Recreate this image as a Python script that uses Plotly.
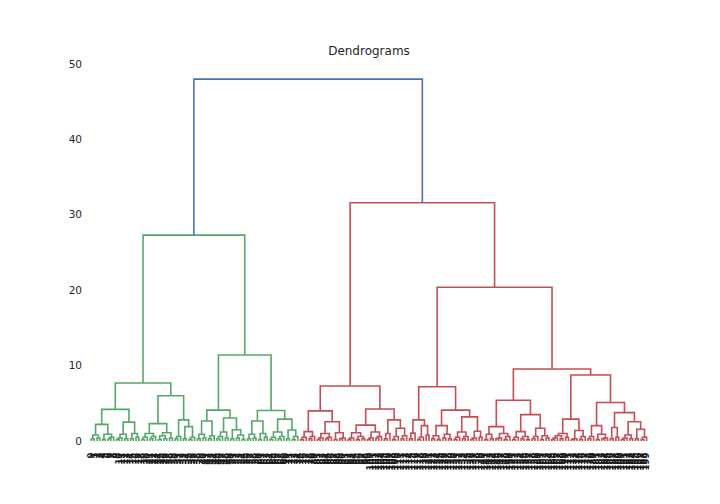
import plotly.graph_objects as go

# ---- Data: dendrogram structure (merge heights) ----
# Newick-like notation: (left,right)height ; 'x' is a leaf
GROUPS = {
    "G1aL": "(((x,x)0.3,(x,x)0.4)0.8,((x,x)0.2,((x,x)0.3,x)0.5)0.9)2.2",
    "G1aR": "((((x,x)0.2,x)0.4,(x,x)0.3)0.9,((x,x)0.3,(x,x)0.5)1.0)2.5",
    "G1bL": "((((x,x)0.2,x)0.5,((x,x)0.3,x)0.6)1.0,(((x,x)0.2,(x,x)0.3)0.7,(x,x)0.4)1.1)2.3",
    "G1bR": "(((x,x)0.3,x)0.6,((x,x)0.3,((x,x)0.2,x)0.5)1.9)2.8",
    "G2aL": "(((x,x)0.3,(x,x)0.4)0.9,((x,x)0.3,x)0.7)2.65",
    "G2aR": "((((x,x)0.3,x)0.6,(x,x)0.4)1.2,((x,x)0.3,((x,x)0.4,(x,x)0.2)0.8)1.5)3.05",
    "G2bL": "(((x,x)0.3,(x,x)0.4)0.9,((x,x)0.2,(x,x)0.5)1.0)2.65",
    "G2bR": "((((x,x)0.2,x)0.5,((x,x)0.3,x)0.6)1.2,((x,x)0.3,((x,x)0.2,x)0.6)1.45)2.9",
    "R1aL": "(((x,x)0.2,x)0.5,((x,x)0.3,x)0.6)1.24",
    "R1aR": "((((x,x)0.2,x)0.4,((x,x)0.3,x)0.5)1.0,((x,x)0.2,((x,x)0.3,x)0.4)1.1)2.56",
    "R1bL": "((((x,x)0.2,x)0.4,((x,x)0.2,(x,x)0.3)0.6)1.1,(((x,x)0.2,x)0.4,((x,x)0.4,x)0.6)1.2)2.1",
    "R1bR": "(((x,x)0.3,x)1.0,(((x,x)0.2,x)0.6,((x,x)0.3,x)0.7)1.7)2.8",
    "R2aL": "(((x,x)0.3,x)1.05,(((x,x)0.2,x)0.5,(x,x)0.8)2.04)2.8",
    "R443": "(((x,x)0.3,(x,x)0.2)0.7,((x,x)0.4,(x,x)0.3)0.9)2.04",
    "R469": "((((x,x)0.2,x)0.5,((x,x)0.3,x)0.6)1.2,(((x,x)0.2,x)0.4,(x,x)0.5)1.3)3.2",
    "R497": "(((x,x)0.2,(x,x)0.3)0.9,(((x,x)0.3,x)0.4,((x,x)0.2,x)0.6)1.0)1.9",
    "R520": "(((x,x)0.2,x)0.5,((x,x)0.3,(x,x)0.2)0.6)1.24",
    "R540": "(((x,x)0.3,x)0.6,((x,x)0.2,(x,x)0.4)0.7)1.7",
    "R569": "(((((x,x)0.2,x)0.4,(x,x)0.3)0.7,(x,x)0.5)1.0,(((x,x)0.2,x)0.3,((x,x)0.2,x)0.6)1.4)2.9",
    "R598": "(((x,x)0.3,x)0.6,((x,x)0.2,((x,x)0.3,x)0.4)0.9)2.04",
    "R617": "((x,x)0.3,(x,x)0.5)1.8",
    "R624": "(((x,x)0.2,x)0.4,(x,x)0.3)0.8",
    "R642": "((x,x)0.3,((x,x)0.2,x)0.5)1.55",
}
GREEN_TREE = "((({G1aL},{G1aR})4.2,({G1bL},{G1bR})6.0)7.7,(({G2aL},{G2aR})4.1,({G2bL},{G2bR})4.05)11.4)27.3"
RED_TREE_A = "(({R1aL},{R1aR})4.0,({R1bL},{R1bR})4.24)7.3"
RED_TREE_B = ("(({R2aL},({R443},{R469})4.1)7.2,(({R497},({R520},{R540})3.5)5.4,"
              "({R569},({R598},({R617},({R624},{R642})2.56)3.76)5.1)8.75)9.55)20.4")
ROOT_HEIGHT = 48.0
RED_HEIGHT = 31.6
TREE = "(" + GREEN_TREE + ",(" + RED_TREE_A + "," + RED_TREE_B + ")" + str(RED_HEIGHT) + ")" + str(ROOT_HEIGHT)
TREE = TREE.format(**GROUPS)

PALETTE = ["#55a868", "#c44e52"]
ABOVE_COLOR = "#4c72b0"
Y_TICKS = [0, 10, 20, 30, 40, 50]
TITLE = "Dendrograms"


def parse(s):
    pos = 0

    def node():
        nonlocal pos
        if s[pos] == "(":
            pos += 1
            left = node()
            pos += 1  # ','
            right = node()
            pos += 1  # ')'
            start = pos
            while pos < len(s) and (s[pos].isdigit() or s[pos] == "."):
                pos += 1
            return (left, right, float(s[start:pos]))
        pos += 1
        return None

    return node()


tree = parse(TREE)
threshold = 0.7 * ROOT_HEIGHT
segs = {}
leaf_count = [0]
pal_iter = iter(PALETTE)


def walk(n, color):
    if n is None:
        x = 5 + 10 * leaf_count[0]
        leaf_count[0] += 1
        return x, 0.0
    l, r, h = n
    if h >= threshold:
        own = ABOVE_COLOR
        cl = next(pal_iter) if (l is not None and l[2] < threshold) else ABOVE_COLOR
        xl, hl = walk(l, cl)
        cr = next(pal_iter) if (r is not None and r[2] < threshold) else ABOVE_COLOR
        xr, hr = walk(r, cr)
    else:
        own = color
        xl, hl = walk(l, color)
        xr, hr = walk(r, color)
    xs, ys = segs.setdefault(own, ([], []))
    xs += [xl, xl, xr, xr, None]
    ys += [hl, h, h, hr, None]
    return (xl + xr) / 2, h


walk(tree, ABOVE_COLOR)
n_leaves = leaf_count[0]
LEAF_LABELS = [str(i) for i in range(n_leaves)]

fig = go.Figure()
for col in PALETTE + [ABOVE_COLOR]:
    if col in segs:
        xs, ys = segs[col]
        fig.add_trace(go.Scatter(x=xs, y=ys, mode="lines",
                                 line=dict(color=col, width=1.6),
                                 hoverinfo="skip", showlegend=False))

fig.update_layout(
    width=720, height=504,
    margin=dict(l=90, r=72, t=61, b=63),
    paper_bgcolor="white", plot_bgcolor="white",
    font=dict(family="DejaVu Sans", color="#262626"),
    title=dict(text=TITLE, x=0.5, xref="paper", xanchor="center",
               y=1 - 51 / 504, yref="container", yanchor="middle",
               font=dict(size=12, color="#262626")),
    showlegend=False,
)
fig.update_xaxes(range=[0, 10 * n_leaves], showgrid=False, zeroline=False, showline=False,
                 tickmode="array", tickvals=[5 + 10 * i for i in range(n_leaves)],
                 ticktext=LEAF_LABELS, tickangle=-90, ticks="",
                 tickfont=dict(size=8.5, color="#1a1a1a", weight="bold"),
                 ticklabelstandoff=9, automargin=False)
fig.update_yaxes(range=[0, ROOT_HEIGHT * 1.05], showgrid=False, zeroline=False, showline=False,
                 tickmode="array", tickvals=Y_TICKS, ticks="",
                 tickfont=dict(size=10.5, color="#262626"),
                 ticklabelstandoff=7, automargin=False)

fig.write_html("out.html")
